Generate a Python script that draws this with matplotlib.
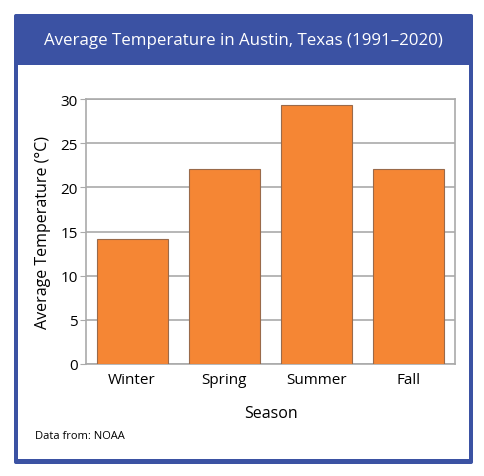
import matplotlib.pyplot as plt
from matplotlib.patches import FancyBboxPatch, Rectangle

plt.rcParams['font.family'] = ['Open Sans', 'DejaVu Sans']

seasons = ['Winter', 'Spring', 'Summer', 'Fall']
temps = [14.1, 22.1, 29.3, 22.1]
yticks = [0, 5, 10, 15, 20, 25, 30]

W, H = 485, 477
blue = '#3B52A3'
orange = '#F58634'

fig = plt.figure(figsize=(W / 100, H / 100), dpi=100)

def fx(px):
    return px / W

def fy(py):
    return 1 - py / H

# blue frame and title bar (drawn behind the axes)
frame = FancyBboxPatch((fx(14), fy(465)), fx(459), fy(15) - fy(465),
                       boxstyle='round,pad=0,rounding_size=0.004',
                       transform=fig.transFigure, facecolor=blue, edgecolor='none',
                       zorder=-2)
fig.add_artist(frame)
inner = Rectangle((fx(18), fy(460)), fx(451), fy(66) - fy(460),
                  transform=fig.transFigure, facecolor='white', edgecolor='none',
                  zorder=-1)
fig.add_artist(inner)
fig.text(fx(243), fy(41), 'Average Temperature in Austin, Texas (1991\u20132020)',
         color='white', fontsize=12.2, ha='center', va='center')

ax = fig.add_axes([fx(86), fy(365), fx(455) - fx(86), fy(100) - fy(365)])
ax.bar(range(len(seasons)), temps, width=0.77, color=orange,
       edgecolor='#9A6A4A', linewidth=0.8, zorder=3)
ax.set_xlim(-0.5, len(seasons) - 0.5)
ax.set_ylim(0, 30)
ax.set_yticks(yticks)
ax.set_xticks(range(len(seasons)))
ax.set_xticklabels(seasons)
ax.yaxis.grid(True, color='#AAAAAA', linewidth=1.2, zorder=0)
for s in ax.spines.values():
    s.set_color('#AAAAAA')
    s.set_linewidth(1.2)
ax.tick_params(axis='y', length=4, color='#AAAAAA', labelsize=11, pad=2)
ax.tick_params(axis='x', length=0, labelsize=11, pad=6)
ax.set_xlabel('Season', fontsize=11.5, labelpad=13)
ax.set_ylabel('Average Temperature (\u00b0C)', fontsize=11.5, labelpad=7)

fig.text(fx(35), fy(437), 'Data from: NOAA', fontsize=8, ha='left', va='center')

fig.savefig('out.png', dpi=100)
